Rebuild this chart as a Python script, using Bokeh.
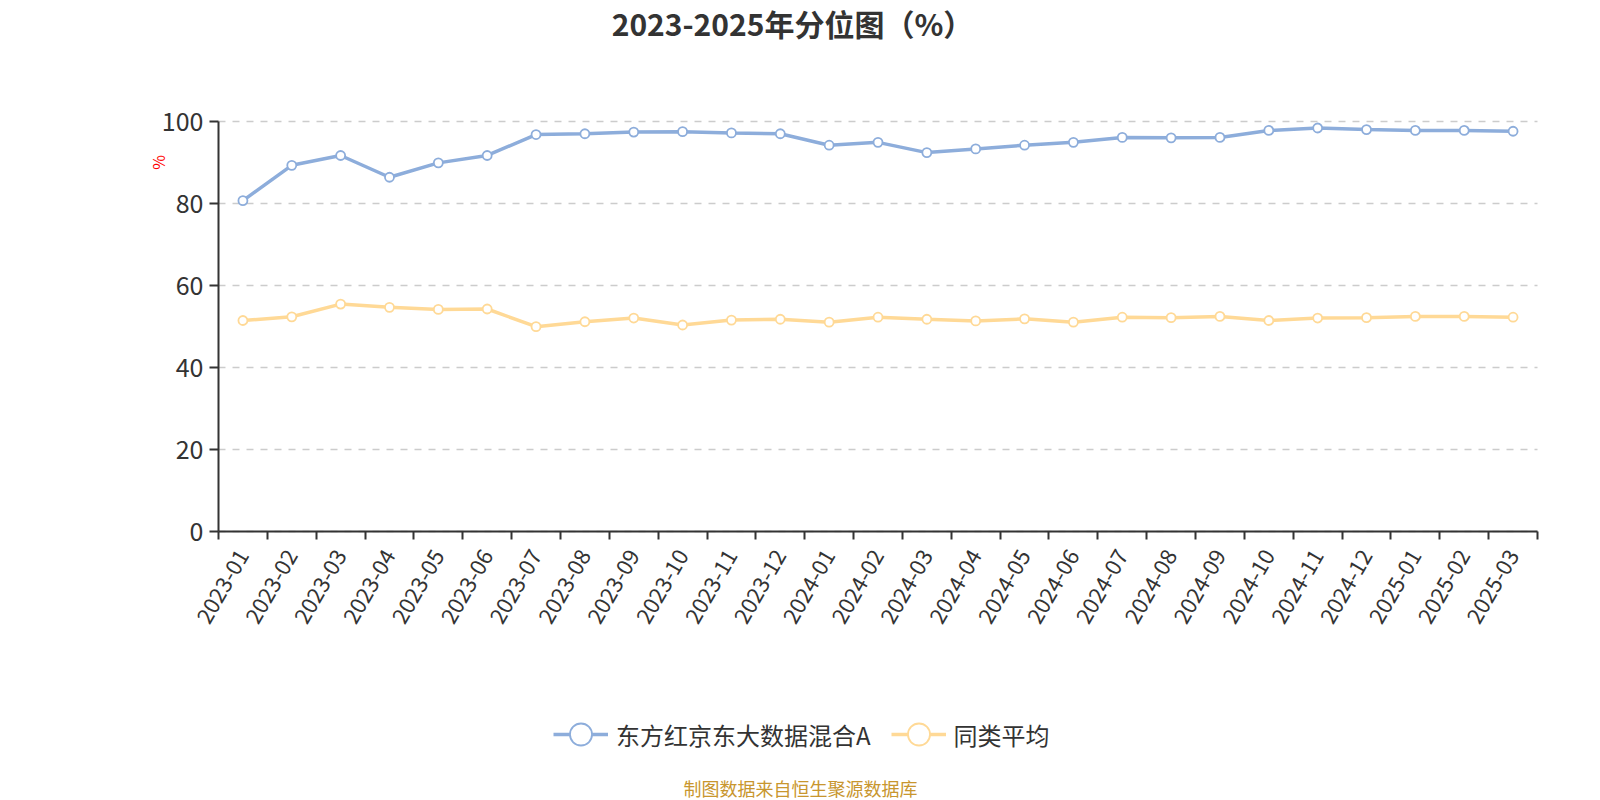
import math
from bokeh.plotting import figure
from bokeh.models import Range1d, FixedTicker, Label, Legend, LegendItem, ColumnDataSource
from bokeh.embed import file_html
from bokeh.resources import INLINE

months = ["2023-01", "2023-02", "2023-03", "2023-04", "2023-05", "2023-06",
          "2023-07", "2023-08", "2023-09", "2023-10", "2023-11", "2023-12",
          "2024-01", "2024-02", "2024-03", "2024-04", "2024-05", "2024-06",
          "2024-07", "2024-08", "2024-09", "2024-10", "2024-11", "2024-12",
          "2025-01", "2025-02", "2025-03"]
fund = [80.6, 89.2, 91.6, 86.3, 89.8, 91.6, 96.7, 96.9, 97.3, 97.4, 97.1, 96.9,
        94.1, 94.8, 92.3, 93.2, 94.1, 94.8, 96.0, 95.9, 96.0, 97.7, 98.3, 97.9,
        97.7, 97.7, 97.5]
peer = [51.4, 52.3, 55.4, 54.6, 54.1, 54.2, 49.9, 51.1, 52.0, 50.3, 51.5, 51.7,
        51.0, 52.2, 51.7, 51.3, 51.8, 51.0, 52.2, 52.1, 52.4, 51.4, 52.0, 52.1,
        52.4, 52.4, 52.2]
series_names = ["东方红京东大数据混合A", "同类平均"]
y_ticks = [0, 20, 40, 60, 80, 100]
title_text = "2023-2025年分位图（%）"
footer_text = "制图数据来自恒生聚源数据库"
y_name = "%"

FONT = "Noto Sans CJK SC"
BLUE = "#8daddb"
YELLOW = "#ffd996"
TXT = "#333333"

# canvas layout (pixels)
W, H = 1600, 800
AX_L, AX_R = 218, 1537      # x of category axis start / end
AX_T, AX_B = 120.5, 531     # y of value 100 / value 0 (from top)

n = len(months)
centers = [i + 0.5 for i in range(n)]
bounds = list(range(n + 1))

ppx = (AX_R - AX_L) / n
ppy = (AX_B - AX_T) / 100.0
x_range = Range1d(-AX_L / ppx, n + (W - AX_R) / ppx)
y_range = Range1d(-(H - AX_B) / ppy, 100 + AX_T / ppy)

src = ColumnDataSource(dict(x=centers, fund=fund, peer=peer))

p = figure(width=W, height=H, output_backend="svg", toolbar_location=None,
           x_range=x_range, y_range=y_range,
           min_border_left=0, min_border_right=0,
           min_border_top=0, min_border_bottom=0)
p.outline_line_color = None
p.background_fill_color = "white"
p.border_fill_color = "white"

# axes, drawn inside the frame at the zero lines
xa = p.xaxis[0]
xa.fixed_location = 0
xa.bounds = (0, n)
xa.ticker = FixedTicker(ticks=centers, minor_ticks=bounds)
xa.major_label_overrides = {c: m for c, m in zip(centers, months)}
xa.major_tick_out = 0
xa.major_tick_in = 0
xa.minor_tick_out = 8
xa.minor_tick_in = 0
xa.minor_tick_line_color = TXT
xa.minor_tick_line_width = 2
xa.axis_line_color = TXT
xa.axis_line_width = 2
xa.major_label_orientation = math.pi / 3
xa.major_label_text_font = FONT
xa.major_label_text_font_size = "22px"
xa.major_label_text_color = TXT
xa.major_label_standoff = 12

ya = p.yaxis[0]
ya.fixed_location = 0
ya.bounds = (0, 100)
ya.ticker = FixedTicker(ticks=y_ticks)
ya.major_tick_out = 9
ya.major_tick_in = 0
ya.minor_tick_out = 0
ya.minor_tick_in = 0
ya.major_tick_line_color = TXT
ya.major_tick_line_width = 2
ya.axis_line_color = TXT
ya.axis_line_width = 2
ya.major_label_text_font = FONT
ya.major_label_text_font_size = "25px"
ya.major_label_text_color = TXT
ya.major_label_standoff = 6

p.xgrid.grid_line_color = None
p.ygrid.ticker = FixedTicker(ticks=y_ticks)
p.ygrid.bounds = (0, 100)
p.ygrid.cross_bounds = (0, n)
p.ygrid.grid_line_color = "#cccccc"
p.ygrid.grid_line_width = 1.5
p.ygrid.grid_line_dash = "7 7"

# series
l1 = p.line("x", "fund", source=src, line_color=BLUE, line_width=3.5)
s1 = p.scatter("x", "fund", source=src, size=9, fill_color="white",
               line_color=BLUE, line_width=1.8)
l2 = p.line("x", "peer", source=src, line_color=YELLOW, line_width=3.5)
s2 = p.scatter("x", "peer", source=src, size=9, fill_color="white",
               line_color=YELLOW, line_width=1.8)

legend = Legend(items=[LegendItem(label=series_names[0], renderers=[l1, s1]),
                       LegendItem(label=series_names[1], renderers=[l2, s2])],
                orientation="horizontal", location=(553, H - 764),
                glyph_width=55, glyph_height=60, label_height=60,
                label_standoff=8, spacing=20,
                padding=0, margin=0, border_line_alpha=0, background_fill_alpha=0,
                label_text_font=FONT, label_text_font_size="24px",
                label_text_color=TXT)
p.add_layout(legend, "center")

# texts (screen units: from the canvas' bottom-left)
p.add_layout(Label(x=792, y=H - 22.5, x_units="screen", y_units="screen",
                   text=title_text, text_font=FONT, text_font_size="30px",
                   text_font_style="bold", text_color=TXT,
                   text_align="center", text_baseline="middle"))
p.add_layout(Label(x=800, y=H - 787, x_units="screen", y_units="screen",
                   text=footer_text, text_font=FONT, text_font_size="18px",
                   text_color="#c8962e", text_align="center",
                   text_baseline="middle"))
p.add_layout(Label(x=157, y=H - 162, x_units="screen", y_units="screen",
                   text=y_name, text_font=FONT, text_font_size="16px",
                   text_color="red", angle=math.pi / 2,
                   text_align="center", text_baseline="middle"))

open("out.html", "w").write(file_html(p, INLINE))
